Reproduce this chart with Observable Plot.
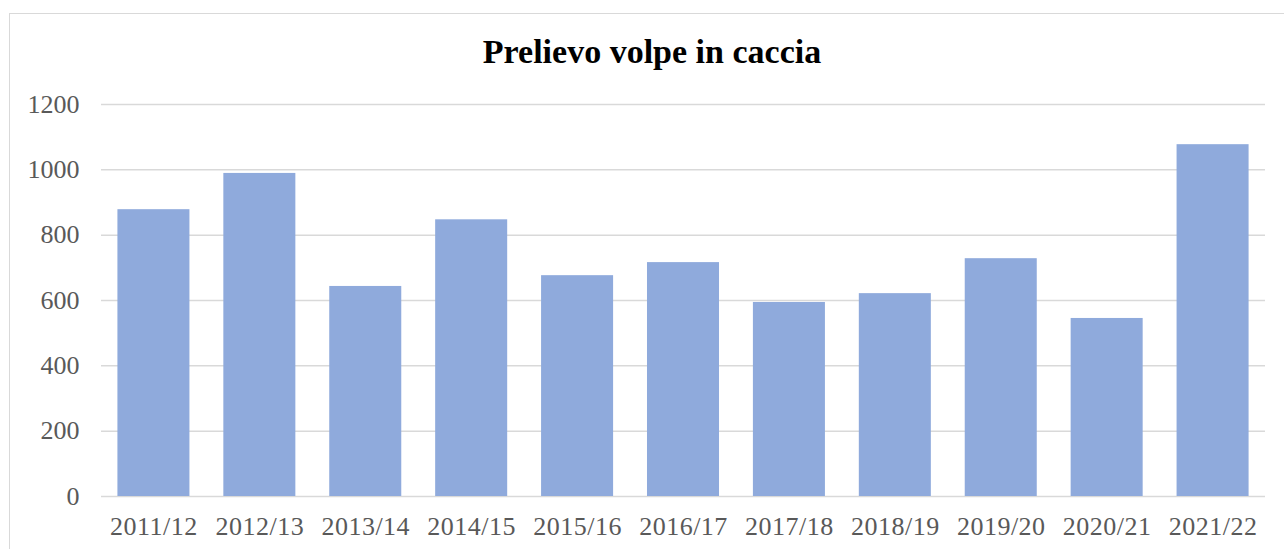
<!DOCTYPE html>
<html>
<head>
<meta charset="utf-8">
<script src="https://cdn.jsdelivr.net/npm/d3@7"></script>
<script src="https://cdn.jsdelivr.net/npm/@observablehq/plot@0.6"></script>
<style>
  html, body { margin: 0; padding: 0; background: #fff; overflow: hidden; }
  #frame { position: absolute; left: 9px; top: 13px; width: 1320px; height: 600px; border: 1.5px solid #d9d9d9; box-sizing: border-box; }
  #wrap { position: absolute; left: 0; top: 0; width: 1284px; }
  #title { height: 80px; box-sizing: border-box; padding-top: 35px; padding-left: 20px; text-align: center;
           font-family: "Liberation Serif", serif; font-weight: bold; font-size: 34px; line-height: 1; color: #000; }
  svg { display: block; }
  .xax text { letter-spacing: 0.5px; }
</style>
</head>
<body>
<div id="frame"></div>
<div id="wrap">
  <div id="title">Prelievo volpe in caccia</div>
  <div id="chart"></div>
</div>
<script>
const seasons = ["2011/12","2012/13","2013/14","2014/15","2015/16","2016/17","2017/18","2018/19","2019/20","2020/21","2021/22"];
const harvest = [878, 989, 643, 847, 676, 716, 594, 621, 728, 545, 1077];
const yTicks = [0, 200, 400, 600, 800, 1000, 1200];

const data = seasons.map((s, i) => ({season: s, value: harvest[i]}));

const chart = Plot.plot({
  width: 1284,
  height: 469,
  marginLeft: 101,
  marginRight: 19,
  marginTop: 24,
  marginBottom: 53,
  style: {fontFamily: "'Liberation Serif', serif", fontSize: "26px", color: "#595959", background: "transparent"},
  x: {domain: seasons, padding: 0.32, paddingOuter: 0.155, round: false, label: null},
  y: {domain: [0, 1200], label: null},
  marks: [
    Plot.ruleY(yTicks, {stroke: "#d9d9d9", strokeWidth: 1.5}),
    Plot.barY(data, {x: "season", y: "value", fill: "#8faadc"}),
    Plot.axisY(yTicks, {tickSize: 0, tickPadding: 22, label: null, fill: "#595959", tickFormat: d => String(d)}),
    Plot.axisX({tickSize: 0, tickPadding: 20, label: null, fill: "#595959", className: "xax"})
  ]
});
document.getElementById("chart").appendChild(chart);
</script>
</body>
</html>
